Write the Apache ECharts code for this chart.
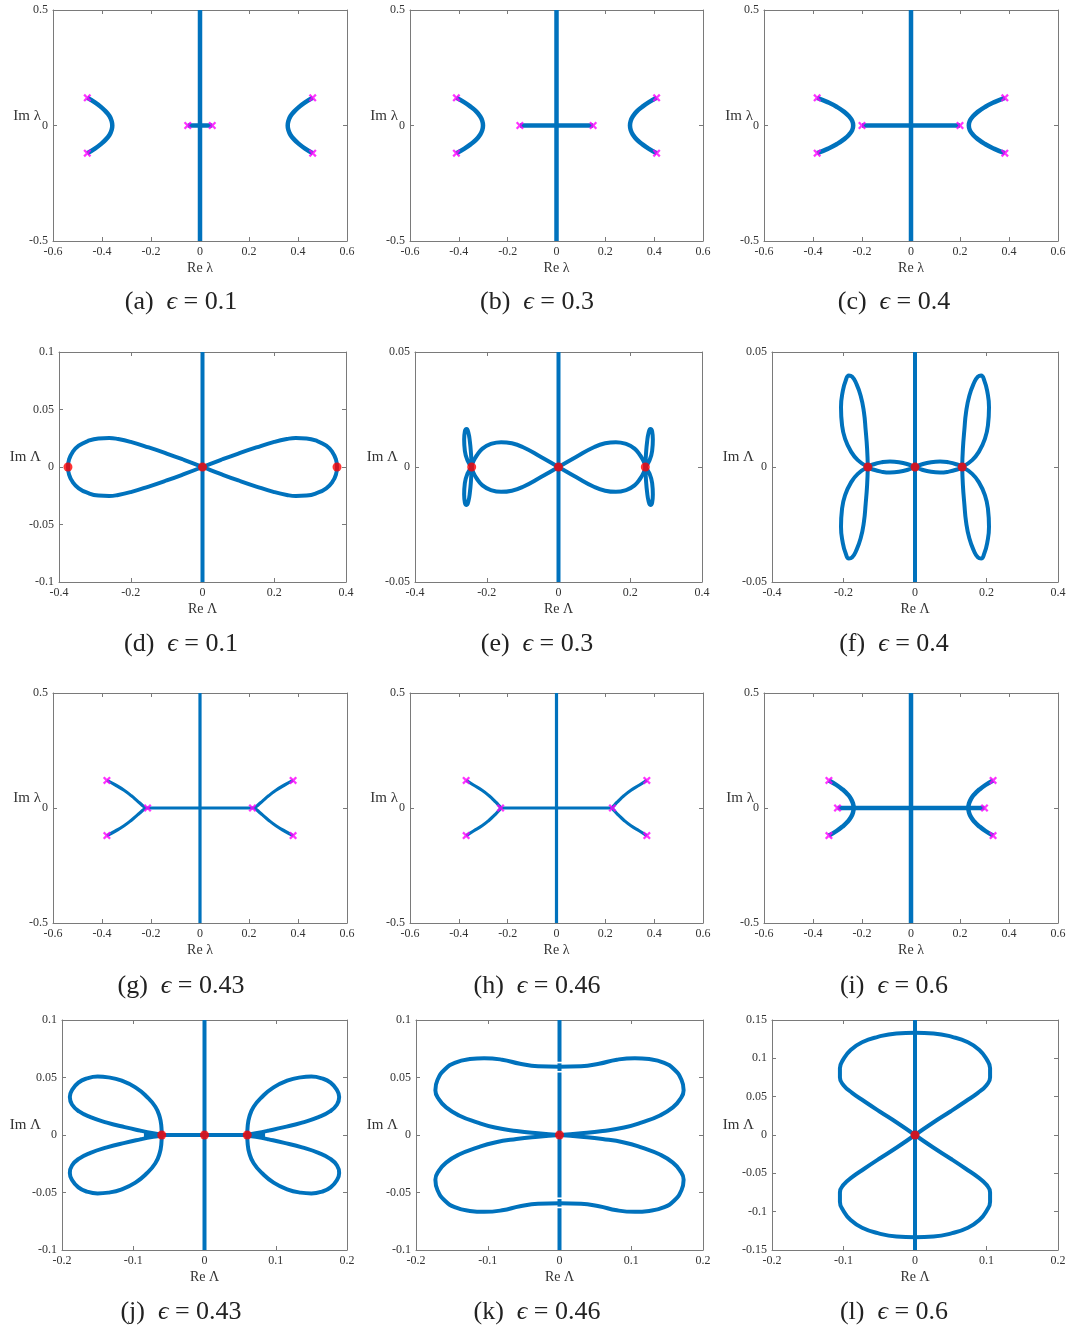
<!DOCTYPE html>
<html>
<head>
<meta charset="UTF-8">
<title>Spectrum panels</title>
<script src="https://cdn.jsdelivr.net/npm/echarts@6/dist/echarts.min.js"></script>
<style>
html,body{margin:0;padding:0;background:#fff;}
#chart{width:1071px;height:1332px;}
</style>
</head>
<body>
<div id="chart"></div>
<script>
// tick values of the axes
var lamXTicks = [-0.6, -0.4, -0.2, 0, 0.2, 0.4, 0.6];
var lamYTicks = [-0.5, 0, 0.5];
var bigXTicksWide = [-0.4, -0.2, 0, 0.2, 0.4];
var bigXTicksNarrow = [-0.2, -0.1, 0, 0.1, 0.2];
var bigYTicks01 = [-0.1, -0.05, 0, 0.05, 0.1];
var bigYTicks005 = [-0.05, 0, 0.05];
var bigYTicks015 = [-0.15, -0.1, -0.05, 0, 0.05, 0.1, 0.15];

var panelLetters = ['a','b','c','d','e','f','g','h','i','j','k','l'];
var epsValues = ['0.1','0.3','0.4','0.1','0.3','0.4','0.43','0.46','0.6','0.43','0.46','0.6'];

// ---- lambda plane (rows 1 and 3): upper half of the left arc, end -> vertex
var aArc = [[-0.46,0.12],[-0.429,0.1],[-0.404,0.08],[-0.384,0.06],[-0.369,0.04],[-0.361,0.02],[-0.358,0]];
var aBar = [[-0.05,0],[0.05,0]];
var aMarks = [[-0.46,0.12],[-0.46,-0.12],[0.46,0.12],[0.46,-0.12],[-0.05,0],[0.05,0]];

var bArc = [[-0.41,0.12],[-0.377,0.1],[-0.35,0.08],[-0.328,0.06],[-0.313,0.04],[-0.304,0.02],[-0.301,0]];
var bBar = [[-0.15,0],[0.15,0]];
var bMarks = [[-0.41,0.12],[-0.41,-0.12],[0.41,0.12],[0.41,-0.12],[-0.15,0],[0.15,0]];

var cArc = [[-0.383,0.12],[-0.338,0.1],[-0.302,0.08],[-0.274,0.06],[-0.253,0.04],[-0.24,0.02],[-0.236,0]];
var cBar = [[-0.2,0],[0.2,0]];
var cMarks = [[-0.383,0.12],[-0.383,-0.12],[0.383,0.12],[0.383,-0.12],[-0.2,0],[0.2,0]];

var gArc = [[-0.38,0.12],[-0.345,0.1],[-0.31,0.077],[-0.28,0.053],[-0.255,0.03],[-0.236,0.012],[-0.225,0]];
var gBar = [[-0.225,0],[0.225,0]];
var gMarks = [[-0.38,0.12],[-0.38,-0.12],[0.38,0.12],[0.38,-0.12],[-0.214,0],[0.214,0]];

var hArc = [[-0.37,0.12],[-0.34,0.1],[-0.305,0.077],[-0.276,0.053],[-0.253,0.03],[-0.237,0.012],[-0.229,0]];
var hBar = [[-0.229,0],[0.229,0]];
var hMarks = [[-0.37,0.12],[-0.37,-0.12],[0.37,0.12],[0.37,-0.12],[-0.229,0],[0.229,0]];

var iArc = [[-0.335,0.12],[-0.304,0.1],[-0.279,0.08],[-0.259,0.06],[-0.245,0.04],[-0.237,0.02],[-0.234,0]];
var iBar = [[-0.3,0],[0.3,0]];
var iMarks = [[-0.335,0.12],[-0.335,-0.12],[0.335,0.12],[0.335,-0.12],[-0.3,0],[0.3,0]];

// ---- Lambda plane (rows 2 and 4)
var dLobe = [[0,0],[0.05,0.006],[0.1,0.0117],[0.15,0.017],[0.2,0.0218],[0.235,0.0243],[0.26,0.0252],[0.29,0.0248],[0.32,0.0225],[0.345,0.0185],[0.362,0.013],[0.372,0.0065],[0.375,0]];
var dDots = [[0,0],[-0.375,0],[0.375,0]];

var eLobe = [[0,0],[0.05,0.0045],[0.1,0.0087],[0.13,0.0103],[0.16,0.0108],[0.19,0.0099],[0.212,0.008],[0.228,0.005],[0.238,0.0022],[0.242,0]];
var ePetal = [[0.242,0],[0.244,0.006],[0.247,0.011],[0.251,0.0148],[0.256,0.0165],[0.261,0.0155],[0.263,0.012],[0.261,0.007],[0.254,0.003],[0.242,0]];
var eDots = [[0,0],[-0.242,0],[0.242,0]];

var fLens = [[0,0],[0.02,0.0012],[0.045,0.0021],[0.07,0.0024],[0.095,0.002],[0.115,0.0012],[0.132,0]];
var fPetal = [[0.132,0],[0.134,0.008],[0.138,0.016],[0.143,0.024],[0.152,0.031],[0.165,0.0365],[0.176,0.0393],[0.185,0.0398],[0.194,0.0375],[0.202,0.033],[0.207,0.026],[0.204,0.018],[0.195,0.012],[0.18,0.007],[0.16,0.003],[0.132,0]];
var fDots = [[0,0],[-0.132,0],[0.132,0]];

var jPetal = [[0.06,0],[0.0605,0.007],[0.063,0.016],[0.069,0.0246],[0.081,0.0333],[0.097,0.0414],[0.116,0.0472],[0.135,0.0501],[0.15,0.0508],[0.165,0.0492],[0.177,0.0455],[0.186,0.039],[0.189,0.033],[0.186,0.0265],[0.176,0.0205],[0.16,0.0155],[0.137,0.0108],[0.112,0.0068],[0.09,0.0038],[0.072,0.0016],[0.06,0.0004]];
var jBar = [[-0.085,0],[0.085,0]];
var jDots = [[0,0],[-0.06,0],[0.06,0]];

var kHalf = [[0,0],[0.03,0.0015],[0.06,0.0035],[0.09,0.0065],[0.115,0.011],[0.14,0.017],[0.158,0.024],[0.168,0.031],[0.173,0.039],[0.17,0.048],[0.16,0.057],[0.145,0.063],[0.125,0.066],[0.105,0.0668],[0.08,0.0655],[0.055,0.062],[0.03,0.0598],[0,0.0594]];
var kAxisParts = [[-0.1,-0.0637],[-0.0623,-0.0557],[-0.0543,0.0543],[0.0557,0.0623],[0.0637,0.1]];
var kDots = [[0,0]];

var lQuarter = [[0,0],[0.025,0.016],[0.05,0.031],[0.071,0.044],[0.088,0.055],[0.1,0.065],[0.105,0.075],[0.105,0.087],[0.1,0.099],[0.09,0.111],[0.074,0.121],[0.052,0.128],[0.026,0.1325],[0,0.1335]];
var lDots = [[0,0]];

// ---- helpers to assemble symmetric curves
function mx(p){ return p.map(function(q){ return [-q[0], q[1]]; }); }
function my(p){ return p.map(function(q){ return [q[0], -q[1]]; }); }
function rv(p){ return p.slice().reverse(); }
function join(a, b){ return a.concat(b.slice(1)); }
function arcs(arc){ var left = join(arc, rv(my(arc))); return [left, mx(left)]; }
function eight(q){ var right = join(q, rv(my(q))); return [join(right, mx(right))]; }
function quad(p){ return [p, my(p), mx(p), mx(my(p))]; }
function loops(h){ var up = join(h, rv(mx(h))); return [up, my(up)]; }
function vert(y0, y1){ return [[0, y0], [0, y1]]; }

var SERIF = '"Liberation Serif", "DejaVu Serif", serif';
var BLUE = '#0072BD';
var AX = '#7a7a7a';
var TXT = '#333';

// layout: [left, top, width, height] of each plotting box
var panels = [
  {box:[53,10,294,231],  xt:lamXTicks, yt:lamYTicks, s:'λ', gap:12, lw:4.5,
   curves: arcs(aArc).concat([aBar, vert(-0.5,0.5)]), marks:aMarks},
  {box:[410,10,293,231], xt:lamXTicks, yt:lamYTicks, s:'λ', gap:12, lw:4.5,
   curves: arcs(bArc).concat([bBar, vert(-0.5,0.5)]), marks:bMarks},
  {box:[764,10,294,231], xt:lamXTicks, yt:lamYTicks, s:'λ', gap:11, lw:4.5,
   curves: arcs(cArc).concat([cBar, vert(-0.5,0.5)]), marks:cMarks},
  {box:[59,352,287,230], xt:bigXTicksWide, yt:bigYTicks01, s:'Λ', gap:18, lw:4,
   curves: eight(dLobe).concat([vert(-0.1,0.1)]), dots:dDots},
  {box:[415,352,287,230], xt:bigXTicksWide, yt:bigYTicks005, s:'Λ', gap:17, lw:4,
   curves: eight(eLobe).concat(quad(ePetal), [vert(-0.05,0.05)]), dots:eDots},
  {box:[772,352,286,230], xt:bigXTicksWide, yt:bigYTicks005, s:'Λ', gap:18, lw:4,
   curves: eight(fLens).concat(quad(fPetal), [vert(-0.05,0.05)]), dots:fDots},
  {box:[53,693,294,230], xt:lamXTicks, yt:lamYTicks, s:'λ', gap:12, lw:3.2,
   curves: arcs(gArc).concat([gBar, vert(-0.5,0.5)]), marks:gMarks},
  {box:[410,693,293,230], xt:lamXTicks, yt:lamYTicks, s:'λ', gap:12, lw:3.2,
   curves: arcs(hArc).concat([hBar, vert(-0.5,0.5)]), marks:hMarks},
  {box:[764,693,294,230], xt:lamXTicks, yt:lamYTicks, s:'λ', gap:10, lw:4.5,
   curves: arcs(iArc).concat([iBar, vert(-0.5,0.5)]), marks:iMarks},
  {box:[62,1020,285,230], xt:bigXTicksNarrow, yt:bigYTicks01, s:'Λ', gap:21, lw:4,
   curves: quad(jPetal).concat([jBar, vert(-0.1,0.1)]), dots:jDots},
  {box:[416,1020,287,230], xt:bigXTicksNarrow, yt:bigYTicks01, s:'Λ', gap:18, lw:4,
   curves: loops(kHalf).concat(kAxisParts.map(function(r){ return vert(r[0], r[1]); })), dots:kDots},
  {box:[772,1020,286,230], xt:bigXTicksNarrow, yt:bigYTicks015, s:'Λ', gap:18, lw:4,
   curves: loops(lQuarter).concat([vert(-0.15,0.15)]), dots:lDots}
];

var capX = [181, 537, 894];
var capY = [302, 644, 986, 1312];

function fmt(v){ return String(Math.round(v * 1000) / 1000); }
function step(t){ return Math.round((t[1] - t[0]) * 1000) / 1000; }

var grids = [], xAxes = [], yAxes = [], series = [], graphics = [];
var X_MARK = 'path://M0,2 L2,0 L5,3 L8,0 L10,2 L7,5 L10,8 L8,10 L5,7 L2,10 L0,8 L3,5 Z';

panels.forEach(function(P, i){
  grids.push({left:P.box[0], top:P.box[1], width:P.box[2], height:P.box[3],
              containLabel:false, outerBoundsMode:'none'});
  var base = {
    type:'value', gridIndex:i, splitLine:{show:false},
    axisLine:{show:true, onZero:false, lineStyle:{color:AX, width:1}},
    axisTick:{show:true, inside:true, length:4, lineStyle:{color:AX, width:1}}
  };
  var lab = {fontFamily:SERIF, fontSize:12, color:TXT, showMinLabel:true, showMaxLabel:true, formatter:fmt};
  var xr = {min:P.xt[0], max:P.xt[P.xt.length-1], interval:step(P.xt)};
  var yr = {min:P.yt[0], max:P.yt[P.yt.length-1], interval:step(P.yt)};
  xAxes.push(Object.assign({}, base, xr, {
    position:'bottom', axisLabel:Object.assign({margin:5}, lab),
    name:'Re ' + P.s, nameLocation:'middle', nameGap:20, nameMoveOverlap:false,
    nameTextStyle:{fontFamily:SERIF, fontSize:14, color:TXT}
  }));
  xAxes.push(Object.assign({}, base, xr, {position:'top', axisLabel:{show:false}}));
  yAxes.push(Object.assign({}, base, yr, {
    position:'left', axisLabel:Object.assign({margin:5}, lab),
    name:'Im ' + P.s, nameLocation:'middle', nameRotate:0, nameGap:P.gap, nameMoveOverlap:false,
    nameTextStyle:{fontFamily:SERIF, fontSize:15, color:TXT, align:'right', verticalAlign:'bottom', padding:[0,0,2,0]}
  }));
  yAxes.push(Object.assign({}, base, yr, {position:'right', axisLabel:{show:false}}));

  P.curves.forEach(function(c){
    series.push({type:'line', xAxisIndex:2*i, yAxisIndex:2*i, data:c, showSymbol:false,
      smooth:c.length > 2 ? 0.5 : false, silent:true, animation:false, z:2,
      lineStyle:{color:BLUE, width:P.lw, cap:'butt', join:'round'}});
  });
  if (P.marks) {
    series.push({type:'scatter', xAxisIndex:2*i, yAxisIndex:2*i, data:P.marks, symbol:X_MARK,
      symbolSize:8, silent:true, animation:false, z:4, itemStyle:{color:'#FF00FF'}});
  }
  if (P.dots) {
    series.push({type:'scatter', xAxisIndex:2*i, yAxisIndex:2*i, data:P.dots, symbol:'circle',
      symbolSize:9, silent:true, animation:false, z:4, itemStyle:{color:'#FF0000'}});
  }

  graphics.push({type:'text', x:capX[i % 3], y:capY[Math.floor(i / 3)], silent:true,
    style:{text:'(' + panelLetters[i] + ')  {e|ϵ} = ' + epsValues[i],
      font:'26px ' + SERIF, fill:'#222', align:'center', verticalAlign:'middle',
      rich:{e:{fontFamily:SERIF, fontSize:26, fontStyle:'italic', fill:'#222'}}}});
});

var chart = echarts.init(document.getElementById('chart'), null, {renderer:'canvas'});
chart.setOption({
  animation:false,
  backgroundColor:'#fff',
  grid:grids,
  xAxis:xAxes,
  yAxis:yAxes,
  series:series,
  graphic:graphics
});
</script>
</body>
</html>
